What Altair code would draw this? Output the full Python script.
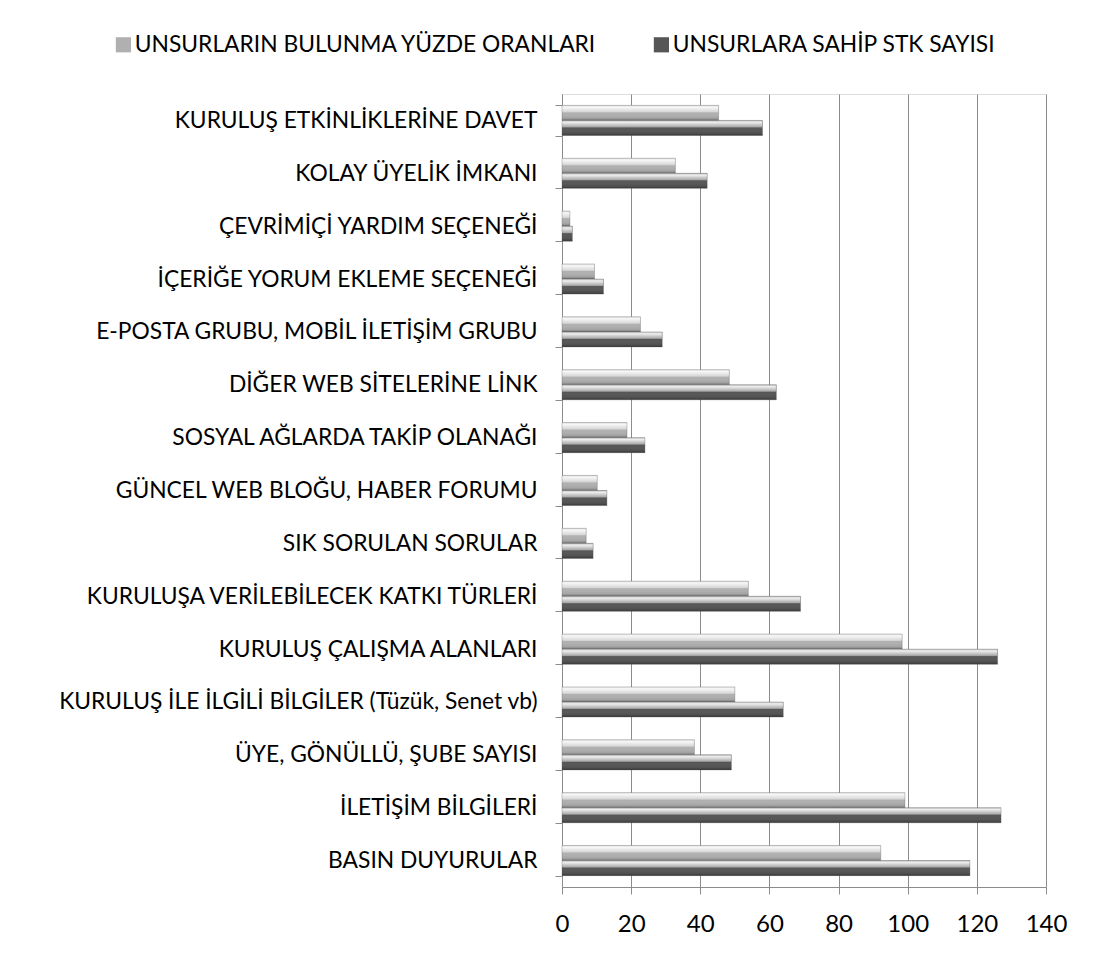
import altair as alt
import pandas as pd

categories = [
    "KURULUŞ ETKİNLİKLERİNE DAVET",
    "KOLAY ÜYELİK İMKANI",
    "ÇEVRİMİÇİ YARDIM SEÇENEĞİ",
    "İÇERİĞE YORUM EKLEME SEÇENEĞİ",
    "E-POSTA GRUBU, MOBİL İLETİŞİM GRUBU",
    "DİĞER WEB SİTELERİNE LİNK",
    "SOSYAL AĞLARDA TAKİP OLANAĞI",
    "GÜNCEL WEB BLOĞU, HABER FORUMU",
    "SIK SORULAN SORULAR",
    "KURULUŞA VERİLEBİLECEK KATKI TÜRLERİ",
    "KURULUŞ ÇALIŞMA ALANLARI",
    "KURULUŞ İLE İLGİLİ BİLGİLER (Tüzük, Senet vb)",
    "ÜYE, GÖNÜLLÜ, ŞUBE SAYISI",
    "İLETİŞİM BİLGİLERİ",
    "BASIN DUYURULAR",
]
pct_values = [45.3, 32.8, 2.3, 9.4, 22.7, 48.4, 18.8, 10.2, 7.0, 53.9, 98.4, 50.0, 38.3, 99.2, 92.2]
count_values = [58, 42, 3, 12, 29, 62, 24, 13, 9, 69, 126, 64, 49, 127, 118]
series_names = ["UNSURLARIN BULUNMA YÜZDE ORANLARI", "UNSURLARA SAHİP STK SAYISI"]
x_ticks = [0, 20, 40, 60, 80, 100, 120, 140]

rows = []
for c, p, n in zip(categories, pct_values, count_values):
    rows.append({"category": c, "series": series_names[0], "value": p})
    rows.append({"category": c, "series": series_names[1], "value": n})
df = pd.DataFrame(rows)

FONT = "Lato"
GRID = "#8c8c8c"

y = alt.Y(
    "category:N",
    sort=categories,
    title=None,
    scale=alt.Scale(paddingInner=0.43, paddingOuter=0.215),
    axis=alt.Axis(
        tickBand="extent",
        tickSize=7,
        tickColor=GRID,
        domainColor=GRID,
        labelPadding=18,
        labelFont=FONT,
        labelFontSize=22.8,
        labelColor="#000000",
        labelLimit=700,
    ),
)
x = alt.X(
    "value:Q",
    scale=alt.Scale(domain=[0, 140], nice=False),
    title=None,
    axis=alt.Axis(
        values=x_ticks,
        grid=True,
        gridColor=GRID,
        gridWidth=1,
        tickSize=7,
        tickColor=GRID,
        domainColor=GRID,
        labelPadding=18,
        labelFlush=False,
        labelOverlap=False,
        labelFont=FONT,
        labelFontSize=24,
        labelColor="#000000",
    ),
)
y_off = alt.YOffset(
    "series:N",
    sort=series_names,
    scale=alt.Scale(domain=series_names, paddingInner=0, paddingOuter=0),
)

base = alt.Chart(df).encode(y=y, x=x, yOffset=y_off)

bars = base.mark_bar(cornerRadius=0).encode(
    color=alt.Color(
        "series:N",
        scale=alt.Scale(domain=series_names, range=["#b0b0b0", "#565656"]),
        legend=alt.Legend(
            orient="none",
            legendX=-450,
            legendY=-61,
            direction="horizontal",
            title=None,
            symbolType="square",
            symbolSize=230,
            symbolStrokeWidth=0,
            labelFont=FONT,
            labelFontSize=22.8,
            labelColor="#000000",
            labelOffset=0,
            columnPadding=53,
            padding=0,
            labelLimit=800,
        ),
    )
)

shine = base.mark_bar(
    fill=alt.LinearGradient(
        gradient="linear",
        x1=0, x2=0, y1=0, y2=1,
        stops=[
            alt.GradientStop(offset=0, color="rgba(255,255,255,0.6)"),
            alt.GradientStop(offset=0.12, color="rgba(255,255,255,0.9)"),
            alt.GradientStop(offset=0.42, color="rgba(255,255,255,0.5)"),
            alt.GradientStop(offset=0.5, color="rgba(255,255,255,0.0)"),
            alt.GradientStop(offset=0.85, color="rgba(0,0,0,0.08)"),
            alt.GradientStop(offset=1, color="rgba(0,0,0,0.35)"),
        ],
    ),
    stroke="#555555",
    strokeOpacity=0.5,
    strokeWidth=0.6,
)

chart = (
    alt.layer(bars, shine)
    .properties(
        width=484,
        height=793,
        autosize=alt.AutoSizeParams(type="none"),
        padding={"left": 554, "top": 86, "right": 43, "bottom": 76},
    )
    .configure_view(stroke=None)
    .configure(background="#ffffff")
)

chart.save("out.html", embed_options={"renderer": "svg", "actions": False})
